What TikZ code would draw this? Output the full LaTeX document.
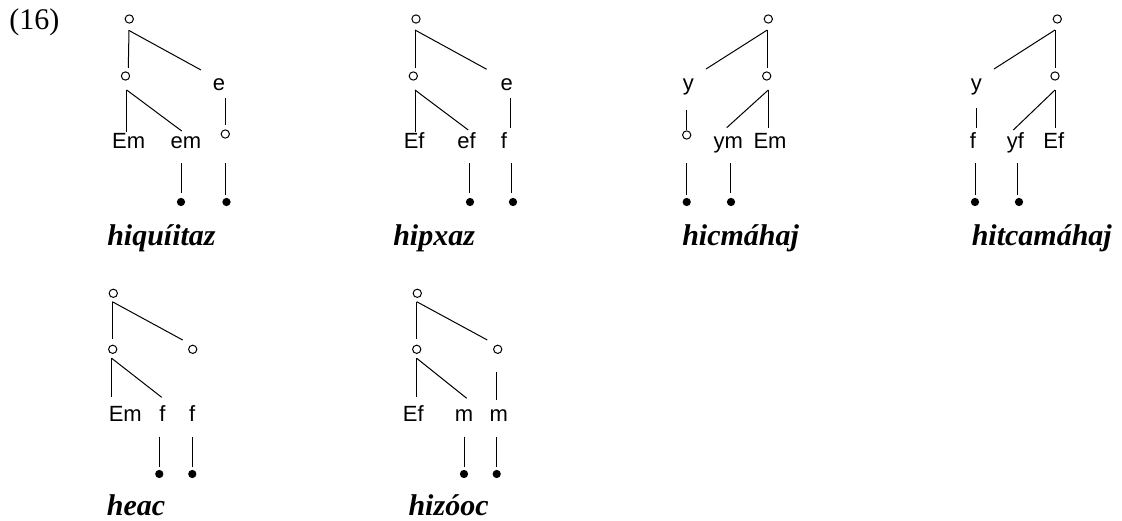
\documentclass[tikz,border=0pt]{standalone}
\usepackage{fontspec}
\setmainfont{Liberation Serif}
\newfontfamily\labfont{Liberation Sans}
\begin{document}
\begin{tikzpicture}[x=0.75pt,y=-0.75pt,
  lab/.style={anchor=base,inner sep=0pt,font=\labfont\fontsize{16.5}{18}\selectfont},
  word/.style={anchor=base west,inner sep=0pt,font=\fontsize{22.5}{26}\selectfont\bfseries\itshape},
  oc/.style={circle,draw,line width=0.75pt,minimum size=6.2pt,inner sep=0pt},
  fc/.style={circle,fill,minimum size=6.2pt,inner sep=0pt},
  br/.style={line width=0.75pt}]
\useasboundingbox (0,0) rectangle (1122,521);
\node[anchor=base west,inner sep=0pt,font=\fontsize{22.5}{26}\selectfont] (ex) at (9,30) {(16)};

% ---------- tree 1: hiquiitaz
\node[oc] (a0) at (129.3,19) {};
\node[oc] (a1) at (125.5,76) {};
\node[lab] (a2) at (219,90.5) {e};
\node[lab] (a3) at (128.7,148) {Em};
\node[lab] (a4) at (186,148) {em};
\node[oc] (a5) at (225.3,134) {};
\node[fc] (a6) at (181,202) {};
\node[fc] (a7) at (226.5,202) {};
\node[word] (aw) at (107,245.5) {hiquíitaz};
\draw[br] (129,30) -- (128.3,68);
\draw[br] (129,30.5) -- (201,70);
\draw[br] (126.7,90) -- (126.7,131.5);
\draw[br] (126.7,90) -- (181.7,131);
\draw[br] (225,98) -- (225,125);
\draw[br] (181,163) -- (181,193);
\draw[br] (225.7,163) -- (225.7,195);

% ---------- tree 2: hipxaz
\node[oc] (b0) at (416,19) {};
\node[oc] (b1) at (413.3,76) {};
\node[lab] (b2) at (506.7,90.5) {e};
\node[lab] (b3) at (414.2,148) {Ef};
\node[lab] (b4) at (466.5,148) {ef};
\node[lab] (b5) at (504,148) {f};
\node[fc] (b6) at (470,202) {};
\node[fc] (b7) at (513,202) {};
\node[word] (bw) at (393,245.5) {hipxaz};
\draw[br] (415,30) -- (415,68);
\draw[br] (415,30) -- (486.7,69.3);
\draw[br] (415,90) -- (415,131.5);
\draw[br] (415,90) -- (468.3,130);
\draw[br] (510,98) -- (510,128);
\draw[br] (469,163) -- (469,193);
\draw[br] (511,163) -- (511,193);

% ---------- tree 3: hicmahaj
\node[oc] (c0) at (768.3,19) {};
\node[oc] (c1) at (766.7,76) {};
\node[lab] (c2) at (688.3,90.5) {y};
\node[oc] (c3) at (686.7,135) {};
\node[lab] (c4) at (728.3,148) {ym};
\node[lab] (c5) at (770,148) {Em};
\node[fc] (c6) at (686.7,202) {};
\node[fc] (c7) at (731,202) {};
\node[word] (cw) at (682,245.5) {hicmáhaj};
\draw[br] (767.3,30) -- (706,69);
\draw[br] (767.3,30) -- (767.3,68);
\draw[br] (768.3,90) -- (768.3,127.7);
\draw[br] (768.3,90) -- (726.7,127.7);
\draw[br] (686.7,110) -- (686.7,130);
\draw[br] (686.7,163) -- (686.7,195);
\draw[br] (730,163) -- (730,193);

% ---------- tree 4: hitcamahaj
\node[oc] (d0) at (1057.3,19) {};
\node[oc] (d1) at (1055,76) {};
\node[lab] (d2) at (976.3,90.5) {y};
\node[lab] (d3) at (973,148) {f};
\node[lab] (d4) at (1015.3,148) {yf};
\node[lab] (d5) at (1053.8,148) {Ef};
\node[fc] (d6) at (975,202) {};
\node[fc] (d7) at (1019,202) {};
\node[word] (dw) at (971.5,245.5) {hitcamáhaj};
\draw[br] (1055,30) -- (994,69);
\draw[br] (1055,30) -- (1055,68);
\draw[br] (1055,90) -- (1055,127.7);
\draw[br] (1055,90) -- (1013.3,130);
\draw[br] (976,108) -- (976,128);
\draw[br] (975,163) -- (975,195);
\draw[br] (1017.7,163) -- (1017.7,195);

% ---------- tree 5: heac
\node[oc] (e0) at (113.3,293.3) {};
\node[oc] (e1) at (112.7,349.3) {};
\node[oc] (e2) at (192.7,349.3) {};
\node[lab] (e3) at (125.3,421.7) {Em};
\node[lab] (e4) at (162.5,421.7) {f};
\node[lab] (e5) at (192.2,421.7) {f};
\node[fc] (e6) at (159.3,474) {};
\node[fc] (e7) at (192.3,474) {};
\node[word] (ew) at (106.7,515) {heac};
\draw[br] (112.3,301.7) -- (112.3,339.3);
\draw[br] (112.3,301.7) -- (182.7,340);
\draw[br] (111.7,358.3) -- (111.7,396.7);
\draw[br] (111.7,358.3) -- (161.7,397.3);
\draw[br] (159.3,436.7) -- (159.3,466.7);
\draw[br] (192,437) -- (192,466.7);

% ---------- tree 6: hizooc
\node[oc] (f0) at (417.3,293.3) {};
\node[oc] (f1) at (416.7,349.3) {};
\node[oc] (f2) at (497.7,349.3) {};
\node[lab] (f3) at (413.3,421.7) {Ef};
\node[lab] (f4) at (464,421.7) {m};
\node[lab] (f5) at (498.7,421.7) {m};
\node[fc] (f6) at (464,474) {};
\node[fc] (f7) at (496.7,474) {};
\node[word] (fw) at (408.3,515) {hizóoc};
\draw[br] (416.7,301.7) -- (416.7,339.3);
\draw[br] (416.7,301.7) -- (487.3,340);
\draw[br] (416.7,358.3) -- (416.7,396.7);
\draw[br] (416.7,358.3) -- (466.7,398.3);
\draw[br] (496.7,371.7) -- (496.7,400);
\draw[br] (464,436.7) -- (464,466.7);
\draw[br] (496.7,437) -- (496.7,466.7);
\end{tikzpicture}
\end{document}
